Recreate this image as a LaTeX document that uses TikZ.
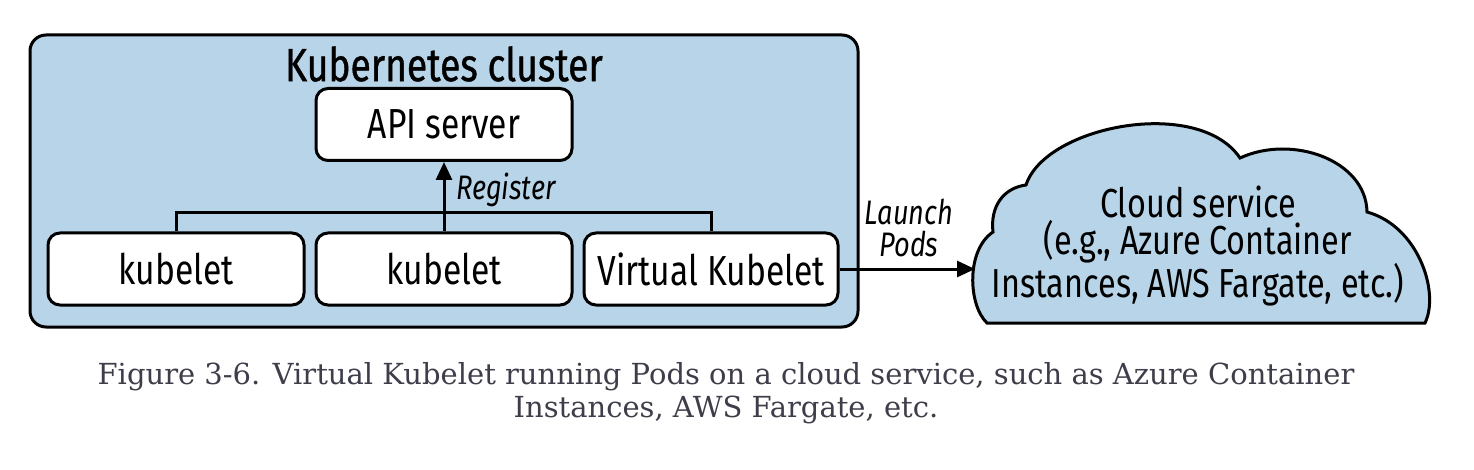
\documentclass[tikz,border=0pt]{standalone}
\usepackage{fontspec}
\setmainfont{Fira Sans}[FakeStretch=0.8]
\newfontfamily\titlefont{Fira Sans}[FakeStretch=0.8,FakeBold=0.8]
\newfontfamily\capfont{DejaVu Serif}
\usetikzlibrary{arrows.meta}
\definecolor{clusterblue}{RGB}{184,212,232}
\definecolor{captiongrey}{RGB}{62,62,74}
\tikzset{every picture/.style={line width=3pt}}

\begin{document}
\begin{tikzpicture}[x=1pt,y=1pt,yscale=-1,xscale=1,
  box/.style={draw,fill=white,rounded corners=12pt,inner sep=0pt,minimum height=72pt,font=\fontsize{42}{48}\selectfont},
  tip/.style={-{Triangle[length=18pt,width=16pt]}},
  lbl/.style={inner sep=0.75pt,font=\fontsize{34}{31.5}\selectfont\itshape}]
\useasboundingbox (0,0) rectangle (1474,470);

%Shape: Rounded Rectangle [id:cluster]
\node [draw,fill=clusterblue,rounded corners=16pt,minimum width=828pt,minimum height=292pt] (cluster) at (444,181) {};
% Text Node
\node [inner sep=0pt,font=\titlefont\fontsize{46.5}{50}\selectfont] (title) at (444,64) {Kubernetes cluster};

%Shape: Rounded Rectangle [id:api]
\node [box,minimum width=256pt] (api) at (444,124.5) {API server};
%Shape: Rounded Rectangle [id:kub1]
\node [box,minimum width=256pt] (kubA) at (176,269) {kubelet};
%Shape: Rounded Rectangle [id:kub2]
\node [box,minimum width=256pt] (kubB) at (444,269) {kubelet};
%Shape: Rounded Rectangle [id:vk]
\node [box,minimum width=254pt] (vk) at (711,269) {Virtual Kubelet};

%Straight Lines [id:bus]
\coordinate (bus) at (444,213);
\draw (kubA.north) |- (bus) -| (vk.north);
%Straight Lines [id:register]
\draw [tip] (kubB.north) -- (api.south);
% Text Node
\node [lbl,anchor=west] (register) at (454,190) {Register};

%Shape: Cloud [id:cloud]
\draw [fill=clusterblue] (987,323)
  .. controls (968,305) and (966,250) .. (993,232)
  .. controls (990,207) and (1003,188) .. (1026,185)
  .. controls (1045,126) and (1198,96) .. (1240,158)
  .. controls (1292,134) and (1366,160) .. (1367,212)
  .. controls (1418,226) and (1440,292) .. (1425,323) -- cycle;
\coordinate (cloudin) at (975,269);
% Text Node
\node [inner sep=0pt,align=center,font=\fontsize{40.5}{37}\selectfont] (cloudtext) at (1198,246) {Cloud service\\(e.g., Azure Container\\Instances, AWS Fargate, etc.)};

%Straight Lines [id:launch]
\draw [tip] (vk.east) -- (cloudin);
% Text Node
\node [lbl,align=center] (launch) at (909,228) {Launch\\Pods};

% Text Node
\node [inner sep=0pt,align=center,text=captiongrey,font=\capfont\fontsize{29}{33}\selectfont] (caption) at (726,393) {Figure 3-6. Virtual Kubelet running Pods on a cloud service, such as Azure Container\\Instances, AWS Fargate, etc.};

\end{tikzpicture}
\end{document}
